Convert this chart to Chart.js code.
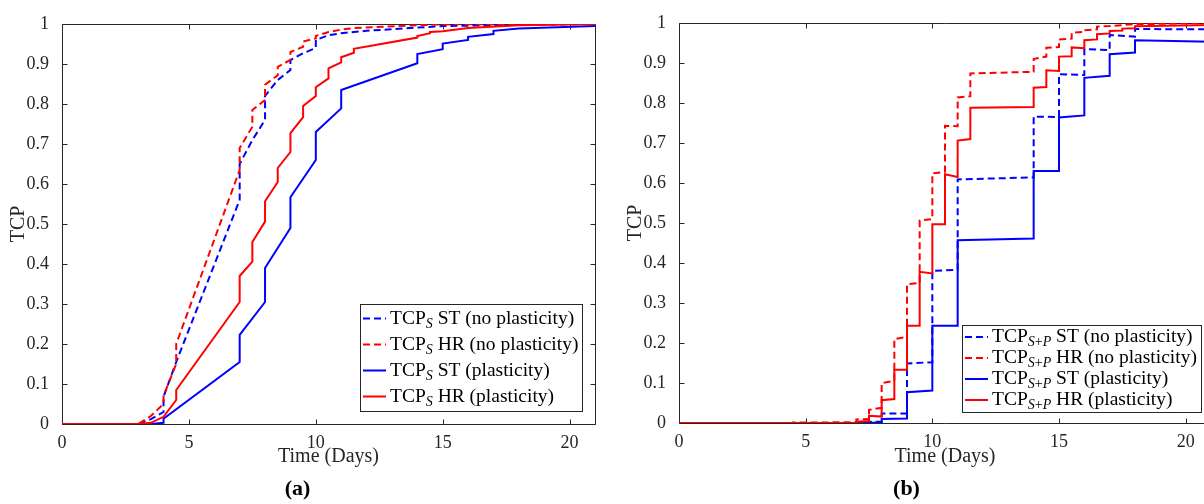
<!DOCTYPE html>
<html>
<head>
<meta charset="utf-8">
<title>TCP over time</title>
<script src="https://cdn.jsdelivr.net/npm/chart.js@4"></script>
<style>
  html, body { margin: 0; background: #fff; }
  body { width: 1204px; height: 504px; overflow: hidden; position: relative; }
  .panel { position: absolute; top: 0; }
  #panelA { left: 0; }
  #panelB { left: 602px; }
</style>
</head>
<body>
<div class="panel" id="panelA"><canvas id="chartA" width="602" height="504"></canvas></div>
<div class="panel" id="panelB"><canvas id="chartB" width="616" height="504"></canvas></div>
<script>
// tick values and labels
var xTickValues = [0, 5, 10, 15, 20];
var yTickValues = [0, 0.1, 0.2, 0.3, 0.4, 0.5, 0.6, 0.7, 0.8, 0.9, 1];
var xTitle = 'Time (Days)';
var yTitle = 'TCP';
var seriesNames = ['ST (no plasticity)', 'HR (no plasticity)', 'ST (plasticity)', 'HR (plasticity)'];

// panel (a): TCP_S, pairs of [day, TCP]
var aStNoPlast = [[0,0],[3,0],[3.5,0.012],[4,0.03],[4,0.068],[4.5,0.155],[7,0.56],[7,0.65],[7.5,0.71],[8,0.76],[8,0.82],[8.5,0.86],[9,0.885],[9,0.91],[9.5,0.927],[10,0.94],[10,0.96],[10.5,0.972],[11,0.977],[12,0.983],[15,0.995],[21,1]];
var aHrNoPlast = [[0,0],[3,0],[3.5,0.02],[4,0.05],[4,0.07],[4.5,0.15],[4.5,0.2],[7,0.635],[7,0.69],[7.5,0.743],[7.5,0.785],[8,0.81],[8,0.848],[8.5,0.872],[8.5,0.893],[9,0.91],[9,0.93],[9.5,0.943],[9.5,0.956],[10,0.964],[10,0.97],[10.5,0.98],[11,0.986],[11.5,0.99],[14,0.997],[15,0.999],[21,1]];
var aStPlast = [[0,0],[3.5,0],[4,0.003],[4,0.013],[7,0.155],[7,0.223],[8,0.305],[8,0.39],[9,0.49],[9,0.567],[10,0.66],[10,0.73],[11,0.789],[11,0.835],[14,0.902],[14,0.925],[15,0.937],[15,0.951],[16,0.96],[16,0.968],[17,0.975],[17,0.983],[18,0.989],[21,0.995]];
var aHrPlast = [[0,0],[3,0],[3.5,0.003],[4,0.018],[4.5,0.06],[4.5,0.085],[7,0.305],[7,0.37],[7.5,0.406],[7.5,0.455],[8,0.506],[8,0.557],[8.5,0.605],[8.5,0.64],[9,0.68],[9,0.727],[9.5,0.767],[9.5,0.795],[10,0.82],[10,0.842],[10.5,0.864],[10.5,0.889],[11,0.904],[11,0.917],[11.5,0.928],[11.5,0.938],[14,0.966],[14,0.97],[14.5,0.977],[14.5,0.98],[15,0.982],[16,0.99],[18,0.997],[21,1]];

// panel (b): TCP_{S+P}
var bStNoPlast = [[0,0],[7.5,0],[7.5,0.003],[8,0.003],[8,0.024],[9,0.024],[9,0.149],[10,0.152],[10,0.38],[11,0.383],[11,0.609],[14,0.614],[14,0.766],[15,0.765],[15,0.872],[16,0.87],[16,0.935],[17,0.932],[17,0.97],[18,0.966],[18,0.985],[21,0.984]];
var bHrNoPlast = [[0,0],[4.5,0],[4.5,0.001],[7,0.002],[7,0.009],[7.5,0.01],[7.5,0.033],[8,0.038],[8,0.1],[8.5,0.105],[8.5,0.21],[9,0.215],[9,0.347],[9.5,0.35],[9.5,0.506],[10,0.51],[10,0.624],[10.5,0.628],[10.5,0.743],[11,0.742],[11,0.814],[11.5,0.817],[11.5,0.874],[14,0.878],[14,0.91],[14.5,0.916],[14.5,0.938],[15,0.94],[15,0.959],[15.5,0.961],[15.5,0.976],[16,0.978],[16,0.982],[16.5,0.984],[16.5,0.991],[17,0.9925],[18,0.997],[21,1]];
var bStPlast = [[0,0],[7.5,0],[8,0.002],[8,0.01],[9,0.011],[9,0.077],[10,0.081],[10,0.243],[11,0.243],[11,0.457],[14,0.461],[14,0.63],[15,0.63],[15,0.764],[16,0.769],[16,0.863],[17,0.868],[17,0.922],[18,0.926],[18,0.957],[21,0.953]];
var bHrPlast = [[0,0],[7,0],[7,0.003],[7.5,0.005],[7.5,0.018],[8,0.016],[8,0.057],[8.5,0.06],[8.5,0.133],[9,0.133],[9,0.243],[9.5,0.243],[9.5,0.378],[10,0.374],[10,0.497],[10.5,0.497],[10.5,0.622],[11,0.615],[11,0.706],[11.5,0.71],[11.5,0.788],[14,0.79],[14,0.838],[14.5,0.84],[14.5,0.882],[15,0.88],[15,0.916],[15.5,0.917],[15.5,0.939],[16,0.937],[16,0.957],[16.5,0.959],[16.5,0.972],[17,0.974],[17,0.98],[17.5,0.981],[17.5,0.986],[18,0.987],[18,0.992],[21,0.995]];

var lineStyles = [
    { color: '#0000ff', dash: [7, 4] },
    { color: '#ff0000', dash: [7, 4] },
    { color: '#0000ff', dash: [] },
    { color: '#ff0000', dash: [] }
];
var serif = '"Liberation Serif", "Times New Roman", serif';
var axisInk = '#262626';

function toPoints(pairs) {
    return pairs.map(p => ({ x: p[0], y: p[1] }));
}

// "TCP" + italic subscript + name; returns the x where the text ends
function drawLabel(ctx, x, y, sub, name, size, paint) {
    var subSize = Math.round(size * 0.7);
    ctx.font = size + 'px ' + serif;
    if (paint) ctx.fillText('TCP', x, y);
    x += ctx.measureText('TCP').width;
    for (var ch of sub) {
        ctx.font = (/[A-Z]/.test(ch) ? 'italic ' : '') + subSize + 'px ' + serif;
        if (paint) ctx.fillText(ch, x, y + size * 0.28);
        x += ctx.measureText(ch).width;
    }
    ctx.font = size + 'px ' + serif;
    if (paint) ctx.fillText(' ' + name, x, y);
    return x + ctx.measureText(' ' + name).width;
}

// box around the plot with inward ticks on all sides
var frameTicks = {
    id: 'frameTicks',
    beforeDatasetsDraw(chart) {
        var ctx = chart.ctx, a = chart.chartArea, xs = chart.scales.x, ys = chart.scales.y;
        var L = Math.round(a.left) + 0.5, R = Math.round(a.right) + 0.5;
        var T = Math.round(a.top) + 0.5, B = Math.round(a.bottom) + 0.5;
        ctx.save();
        ctx.strokeStyle = axisInk;
        ctx.lineWidth = 1;
        ctx.beginPath();
        xs.ticks.forEach(t => {
            var p = Math.round(xs.getPixelForValue(t.value)) + 0.5;
            ctx.moveTo(p, B); ctx.lineTo(p, B - 5);
            ctx.moveTo(p, T); ctx.lineTo(p, T + 5);
        });
        ys.ticks.forEach(t => {
            var p = Math.round(ys.getPixelForValue(t.value)) + 0.5;
            ctx.moveTo(L, p); ctx.lineTo(L + 5, p);
            ctx.moveTo(R, p); ctx.lineTo(R - 5, p);
        });
        ctx.rect(L, T, R - L, B - T);
        ctx.stroke();
        ctx.restore();
    }
};

// legend box in the lower right of the plot
var boxLegend = {
    id: 'boxLegend',
    afterDatasetsDraw(chart, args, o) {
        var ctx = chart.ctx, a = chart.chartArea, sets = chart.data.datasets;
        ctx.save();
        ctx.textBaseline = 'middle';
        ctx.textAlign = 'left';
        var textW = Math.max.apply(null, seriesNames.map(n => drawLabel(ctx, 0, 0, o.sub, n, o.size, false)));
        var w = Math.round(30 + textW + 4);
        var h = Math.round(2 * o.edge + (sets.length - 1) * o.row);
        var x0 = Math.round(a.right - o.right - w);
        var y0 = Math.round(a.bottom - o.bottom - h);
        ctx.fillStyle = '#fff';
        ctx.fillRect(x0, y0, w, h);
        ctx.strokeStyle = axisInk;
        ctx.lineWidth = 1;
        ctx.strokeRect(x0 + 0.5, y0 + 0.5, w, h);
        sets.forEach((ds, i) => {
            var y = y0 + o.edge + i * o.row;
            ctx.beginPath();
            ctx.setLineDash(ds.borderDash);
            ctx.strokeStyle = ds.borderColor;
            ctx.lineWidth = 2;
            ctx.moveTo(x0 + 3, y);
            ctx.lineTo(x0 + 26, y);
            ctx.stroke();
            ctx.setLineDash([]);
            ctx.fillStyle = '#000';
            drawLabel(ctx, x0 + 30, y, o.sub, seriesNames[i], o.size, true);
        });
        ctx.restore();
    }
};

function makeChart(id, o) {
    return new Chart(document.getElementById(id), {
        type: 'line',
        data: {
            datasets: o.series.map((pts, i) => ({
                label: 'TCP_' + o.sub + ' ' + seriesNames[i],
                data: toPoints(pts),
                borderColor: lineStyles[i].color,
                borderDash: lineStyles[i].dash,
                borderWidth: 2,
                pointRadius: 0,
                fill: false,
                tension: 0,
                order: o.series.length - i
            }))
        },
        options: {
            responsive: false,
            animation: false,
            events: [],
            layout: { padding: { left: 0, right: 7, top: o.top, bottom: 0 } },
            scales: {
                x: {
                    type: 'linear', min: 0, max: 21,
                    afterBuildTicks: s => { s.ticks = xTickValues.map(v => ({ value: v })); },
                    afterFit: s => { s.height = o.xHeight; },
                    grid: { display: false },
                    border: { display: false },
                    ticks: { color: axisInk, font: { family: serif, size: 18 }, padding: 0, maxRotation: 0,
                             callback: v => String(v) },
                    title: { display: true, text: xTitle, color: axisInk, font: { family: serif, size: 20 },
                             padding: { top: 0, bottom: 8 } }
                },
                y: {
                    type: 'linear', min: 0, max: 1,
                    afterBuildTicks: s => { s.ticks = yTickValues.map(v => ({ value: v })); },
                    afterFit: s => { s.width = o.yWidth; },
                    grid: { display: false },
                    border: { display: false },
                    ticks: { color: axisInk, font: { family: serif, size: 18 }, padding: 5,
                             callback: v => String(Math.round(v * 10) / 10) },
                    title: { display: true, text: yTitle, color: axisInk, font: { family: serif, size: 20 },
                             padding: { top: o.yTitlePad, bottom: 0 } }
                }
            },
            plugins: {
                legend: { display: false },
                tooltip: { enabled: false },
                title: { display: true, position: 'bottom', text: o.panel, color: '#000',
                         font: { family: serif, size: 22, weight: 'bold' }, padding: { top: 0, bottom: 1 } },
                boxLegend: o.legend
            }
        },
        plugins: [frameTicks, boxLegend]
    });
}

makeChart('chartA', {
    series: [aStNoPlast, aHrNoPlast, aStPlast, aHrPlast],
    sub: 'S', panel: '(a)',
    top: 24, xHeight: 52.6, yWidth: 62, yTitlePad: 7,
    legend: { sub: 'S', size: 19.5, right: 13, bottom: 13, edge: 14.5, row: 26 }
});

makeChart('chartB', {
    series: [bStNoPlast, bHrNoPlast, bStPlast, bHrPlast],
    sub: 'S+P', panel: '(b)',
    top: 23, xHeight: 53.6, yWidth: 77, yTitlePad: 22,
    legend: { sub: 'S+P', size: 19.5, right: 10, bottom: 11, edge: 12, row: 21 }
});
</script>
</body>
</html>
